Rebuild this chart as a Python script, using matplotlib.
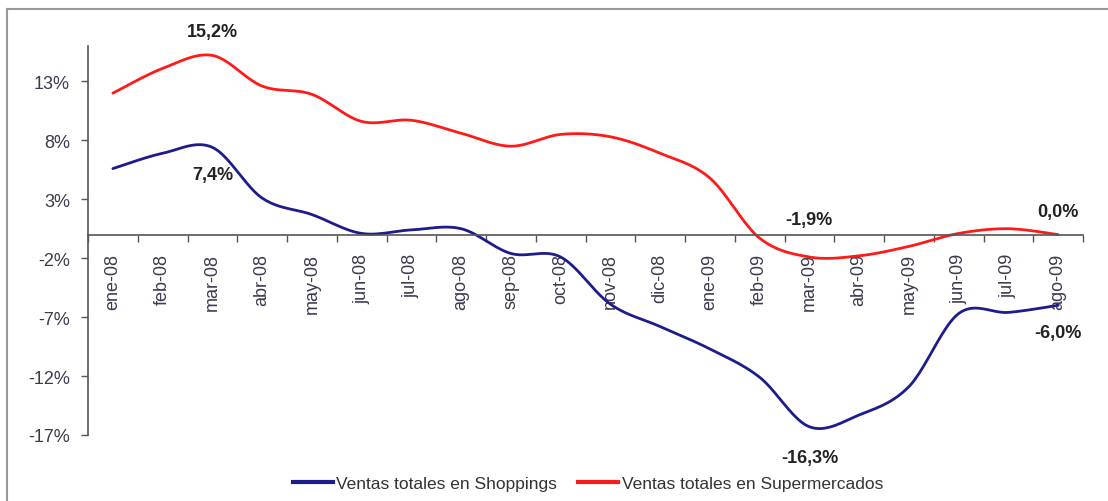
import numpy as np
import matplotlib.pyplot as plt
from matplotlib.lines import Line2D

plt.rcParams['font.family'] = ['Liberation Sans', 'DejaVu Sans']

meses = ['ene-08', 'feb-08', 'mar-08', 'abr-08', 'may-08', 'jun-08', 'jul-08',
         'ago-08', 'sep-08', 'oct-08', 'nov-08', 'dic-08', 'ene-09', 'feb-09',
         'mar-09', 'abr-09', 'may-09', 'jun-09', 'jul-09', 'ago-09']

# variacion interanual (%)
shoppings = [5.6, 6.9, 7.4, 3.1, 1.7, 0.1, 0.4, 0.5, -1.6, -1.9,
             -5.9, -7.8, -9.7, -12.1, -16.3, -15.3, -12.9, -6.7, -6.6, -6.0]
supermercados = [12.0, 14.1, 15.2, 12.6, 11.9, 9.6, 9.7, 8.6, 7.5, 8.5,
                 8.3, 6.9, 4.8, -0.3, -1.9, -1.8, -1.0, 0.1, 0.5, 0.0]

# etiquetas de datos: (indice, texto, desplazamiento en %)
etiquetas_sup = [(2, '15,2%', 2.0), (14, '-1,9%', 3.2), (19, '0,0%', 1.95)]
etiquetas_shop = [(2, '7,4%', -2.3), (14, '-16,3%', -2.6), (19, '-6,0%', -2.3)]

azul = '#1c1c8c'
rojo = '#ff1a1a'
gris_txt = '#3a3a50'


def suavizar(y, n=24):
    # curva tipo Catmull-Rom, como la linea suavizada de Excel
    y = np.asarray(y, float)
    x = np.arange(len(y), dtype=float)
    px = np.concatenate([[x[0]], x, [x[-1]]])
    py = np.concatenate([[y[0]], y, [y[-1]]])
    xs, ys = [], []
    t = np.linspace(0, 1, n, endpoint=False)
    for i in range(1, len(px) - 2):
        for p, out in ((px, xs), (py, ys)):
            p0, p1, p2, p3 = p[i - 1], p[i], p[i + 1], p[i + 2]
            out.extend(0.5 * (2 * p1 + (-p0 + p2) * t
                              + (2 * p0 - 5 * p1 + 4 * p2 - p3) * t ** 2
                              + (-p0 + 3 * p1 - 3 * p2 + p3) * t ** 3))
    xs.append(x[-1])
    ys.append(y[-1])
    return np.array(xs), np.array(ys)


fig = plt.figure(figsize=(11.08, 5.02), dpi=100)
ax = fig.add_axes([88 / 1108, 1 - 436 / 502, (1083 - 88) / 1108, (436 - 47) / 502])

xs, ys = suavizar(shoppings)
ax.plot(xs, ys, color=azul, lw=2.0, solid_capstyle='round')
xs, ys = suavizar(supermercados)
ax.plot(xs, ys, color=rojo, lw=2.0, solid_capstyle='round')

for i, txt, d in etiquetas_sup:
    ax.text(i, supermercados[i] + d, txt, ha='center', va='center',
            fontsize=13, fontweight='bold', color='#222222', clip_on=False)
for i, txt, d in etiquetas_shop:
    ax.text(i, shoppings[i] + d, txt, ha='center', va='center',
            fontsize=13, fontweight='bold', color='#222222', clip_on=False)

ax.set_xlim(-0.5, len(meses) - 0.5)
ax.set_ylim(-17, 16)

yt = [13, 8, 3, -2, -7, -12, -17]
ax.set_yticks(yt)
ax.set_yticklabels([f'{v}%' for v in yt], fontsize=13, color=gris_txt)
ax.tick_params(axis='y', direction='out', length=5, width=1, color='#555555', pad=8)

ax.spines['bottom'].set_position(('data', 0))
ax.spines['top'].set_visible(False)
ax.spines['right'].set_visible(False)
for s in ('left', 'bottom'):
    ax.spines[s].set_color('#555555')
    ax.spines[s].set_linewidth(1.2)

ax.set_xticks(np.arange(len(meses) + 1) - 0.5)
ax.set_xticklabels([])
ax.tick_params(axis='x', which='major', direction='out', length=5, width=1, color='#555555')
ax.set_xticks(np.arange(len(meses)), minor=True)
ax.set_xticklabels(meses, minor=True, rotation=90, fontsize=13, color=gris_txt)
ax.tick_params(axis='x', which='minor', length=0, pad=13)

handles = [Line2D([], [], color=azul, lw=3), Line2D([], [], color=rojo, lw=3)]
fig.legend(handles, ['Ventas totales en Shoppings', 'Ventas totales en Supermercados'],
           loc='center', bbox_to_anchor=(588 / 1108, 1 - 484 / 502), ncol=2,
           frameon=False, fontsize=12.5, handlelength=2.3, handletextpad=0.2,
           columnspacing=1.2, labelcolor='#333333')

# marco exterior del grafico
fig.add_artist(Line2D([7 / 1108, 1], [1 - 10 / 502] * 2, color='#999999', lw=1.5))
fig.add_artist(Line2D([7 / 1108] * 2, [0, 1 - 10 / 502], color='#999999', lw=1.5))

fig.savefig('out.png', dpi=100, facecolor='white')
